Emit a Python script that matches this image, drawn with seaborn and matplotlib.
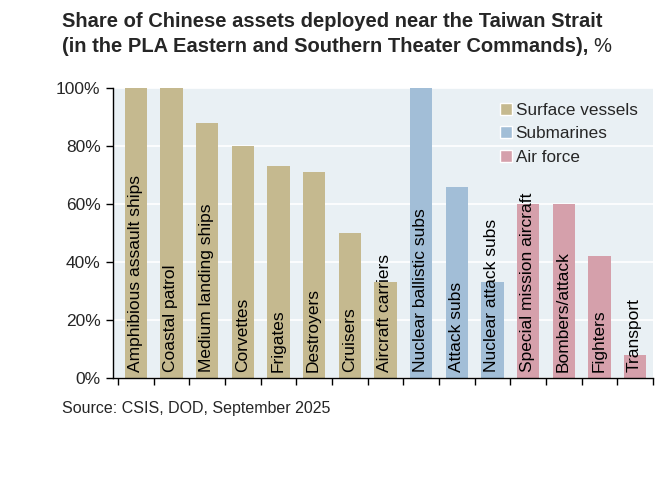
import matplotlib
matplotlib.use('Agg')
import matplotlib.pyplot as plt
import seaborn as sns
import pandas as pd
from matplotlib.patches import Patch
from matplotlib.ticker import PercentFormatter

categories = ['Amphibious assault ships', 'Coastal patrol', 'Medium landing ships', 'Corvettes',
              'Frigates', 'Destroyers', 'Cruisers', 'Aircraft carriers',
              'Nuclear ballistic subs', 'Attack subs', 'Nuclear attack subs',
              'Special mission aircraft', 'Bombers/attack', 'Fighters', 'Transport']
shares = [100, 100, 88, 80, 73, 71, 50, 33, 100, 66, 33, 60, 60, 42, 8]
groups = ['Surface vessels'] * 8 + ['Submarines'] * 3 + ['Air force'] * 4
group_order = ['Surface vessels', 'Submarines', 'Air force']
palette = {'Surface vessels': '#C5B98F', 'Submarines': '#A2BED7', 'Air force': '#D5A0AB'}

df = pd.DataFrame({'category': categories, 'share': shares, 'group': groups})

sns.set_style('white')
plt.rcParams['font.family'] = ['Liberation Sans', 'DejaVu Sans']

fig = plt.figure(figsize=(6.7, 4.78), dpi=100)
ax = fig.add_axes([0.1687, 0.209, 0.806, 0.607])
ax.set_facecolor('#E9F0F4')

sns.barplot(data=df, x='category', y='share', hue='group', palette=palette,
            dodge=False, width=0.62, legend=False, ax=ax, saturation=1,
            edgecolor='none', linewidth=0)

ax.set_ylim(0, 100)
ax.set_xlim(-0.64, len(categories) - 0.5)
ax.yaxis.set_major_formatter(PercentFormatter(decimals=0))
ax.set_yticks(range(0, 101, 20))
ax.grid(axis='y', color='white', linewidth=1.2)
ax.set_axisbelow(True)
ax.set_xlabel('')
ax.set_ylabel('')

for s in ['top', 'right']:
    ax.spines[s].set_visible(False)
ax.spines['left'].set_color('black')
ax.spines['bottom'].set_color('black')
ax.spines['left'].set_linewidth(1)
ax.spines['bottom'].set_linewidth(1)

ax.set_xticks([i - 0.5 for i in range(0, len(categories) + 1)])
ax.set_xticklabels([])
ax.tick_params(axis='x', direction='out', length=5, width=1, color='black', bottom=True)
ax.tick_params(axis='y', length=5, width=1, color='black', left=True, labelsize=12.5, pad=4)

for i, name in enumerate(categories):
    ax.text(i - 0.02, 2, name, rotation=90, ha='center', va='bottom', fontsize=12.5, color='black')

handles = [Patch(facecolor=palette[g], label=g) for g in group_order]
leg = ax.legend(handles=handles, loc='upper left', bbox_to_anchor=(0.698, 0.985), frameon=False,
                fontsize=12.3, handlelength=0.7, handleheight=0.7, handletextpad=0.2,
                labelspacing=0.5, borderaxespad=0.2)

fig.text(0.092, 0.955, 'Share of Chinese assets deployed near the Taiwan Strait',
         fontsize=14.5, fontweight='bold', va='center', ha='left')
line2 = fig.text(0.092, 0.903, '(in the PLA Eastern and Southern Theater Commands),',
                 fontsize=14.5, fontweight='bold', va='center', ha='left')
fig.canvas.draw()
bb = line2.get_window_extent().transformed(fig.transFigure.inverted())
fig.text(bb.x1 + 0.008, 0.903, '%', fontsize=14.5, va='center', ha='left')

fig.text(0.092, 0.145, 'Source: CSIS, DOD, September 2025', fontsize=11.5, va='center', ha='left')

fig.savefig('out.png', dpi=100, facecolor='white')
